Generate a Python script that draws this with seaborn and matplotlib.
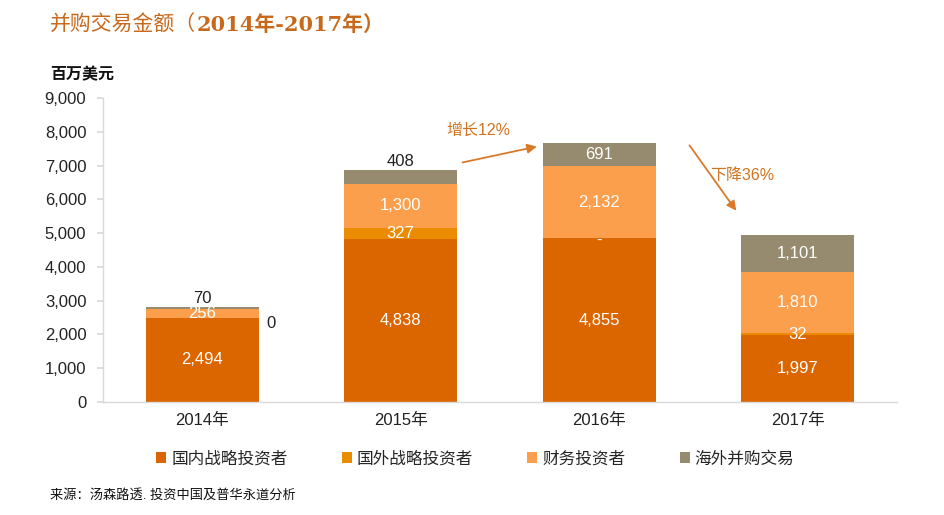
import numpy as np
import pandas as pd
import matplotlib
matplotlib.use("Agg")
import matplotlib.pyplot as plt
import seaborn as sns
from matplotlib.patches import Patch

years = ["2014年", "2015年", "2016年", "2017年"]
domestic = [2494, 4838, 4855, 1997]
foreign = [0, 327, 0, 32]
financial = [256, 1300, 2132, 1810]
overseas = [70, 408, 691, 1101]
series_names = ["国内战略投资者", "国外战略投资者", "财务投资者", "海外并购交易"]
colors = ["#DB6600", "#EB8C00", "#FC9F4C", "#968B6E"]
yticks = [0, 1000, 2000, 3000, 4000, 5000, 6000, 7000, 8000, 9000]

sns.set_theme(style="white")
plt.rcParams['font.family'] = ['Liberation Sans', 'Noto Sans CJK SC', 'DejaVu Sans']

df = pd.DataFrame({"year": years, "domestic": domestic, "foreign": foreign,
                   "financial": financial, "overseas": overseas})
df["c1"] = df["domestic"]
df["c2"] = df["c1"] + df["foreign"]
df["c3"] = df["c2"] + df["financial"]
df["c4"] = df["c3"] + df["overseas"]

fig = plt.figure(figsize=(9.45, 5.15), dpi=100)
ax = fig.add_axes([0.109, 0.2194, 0.840, 0.5903])

W = 0.57
for col, c in zip(["c4", "c3", "c2", "c1"], colors[::-1]):
    sns.barplot(data=df, x="year", y=col, color=c, width=W, ax=ax,
                saturation=1, linewidth=0, errorbar=None)

ax.set_ylim(0, 9000)
ax.set_xlim(-0.5, 3.5)
ax.set_yticks(yticks)
ax.set_yticklabels([f"{v:,}" for v in yticks], fontsize=12, color="#222222")
ax.set_xticks(range(4))
ax.set_xticklabels(years, fontsize=12, color="#222222")
ax.set_xlabel("")
ax.set_ylabel("")
for s in ["top", "right"]:
    ax.spines[s].set_visible(False)
for s in ["left", "bottom"]:
    ax.spines[s].set_color("#D9D9D9")
    ax.spines[s].set_linewidth(1)
ax.tick_params(axis="y", which="both", left=True, length=4, color="#D9D9D9", pad=8)
ax.tick_params(axis="x", length=0, pad=8)

fs = 12
for i in range(4):
    segs = [(0, df["c1"][i]), (df["c1"][i], df["c2"][i]),
            (df["c2"][i], df["c3"][i]), (df["c3"][i], df["c4"][i])]
    vals = [domestic[i], foreign[i], financial[i], overseas[i]]
    for k, ((b, t), v) in enumerate(zip(segs, vals)):
        mid = (b + t) / 2
        if i == 0 and k == 1:
            ax.text(i + W / 2 + 0.04, 2330, "0", ha="left", va="center", fontsize=fs, color="#222222")
            continue
        if i == 2 and k == 1:
            ax.text(i, mid - 60, "-", ha="center", va="center", fontsize=fs, color="white")
            continue
        if (i == 0 and k == 3) or (i == 1 and k == 3):
            ax.text(i, t + 30, f"{v:,}", ha="center", va="bottom", fontsize=fs, color="#222222")
            continue
        ax.text(i, mid, f"{v:,}", ha="center", va="center", fontsize=fs, color="white")

arrow_c = "#D97A2B"
ax.annotate("", xy=(1.70, 7580), xytext=(1.298, 7075),
            arrowprops=dict(arrowstyle="-|>", color=arrow_c, lw=1.3, mutation_scale=14))
ax.annotate("", xy=(2.699, 5595), xytext=(2.447, 7667),
            arrowprops=dict(arrowstyle="-|>", color=arrow_c, lw=1.3, mutation_scale=14))
ax.text(1.39, 8050, "增长12%", ha="center", va="center", fontsize=11.5, color="#D0731E")
ax.text(2.72, 6720, "下降36%", ha="center", va="center", fontsize=11.5, color="#D0731E")

title_c = "#C8681B"
t1 = fig.text(0.053, 0.952, "并购交易金额（", fontsize=15, color=title_c, va="center", ha="left",
              family=['Noto Sans CJK SC'])
ann = plt.annotate("2014年-2017年）", xy=(1, 0.5), xycoords=t1, va="center", ha="left",
                   fontsize=15, color=title_c, fontweight="bold",
                   family=['DejaVu Serif', 'Noto Sans CJK SC'], annotation_clip=False)
fig.text(0.053, 0.856, "百万美元", fontsize=11.5, fontweight="bold", color="#111111", va="center",
         family=['Noto Sans CJK SC'])

handles = [Patch(facecolor=c, edgecolor="none") for c in colors]
leg = fig.legend(handles, series_names, loc="center", bbox_to_anchor=(0.503, 0.109),
                 ncol=4, frameon=False, fontsize=12, handlelength=0.6, handleheight=0.6,
                 handletextpad=0.3, columnspacing=3.25)

fig.text(0.053, 0.038, "来源：汤森路透. 投资中国及普华永道分析", fontsize=9.5, color="#111111", va="center")

fig.savefig("out.png", dpi=100)
